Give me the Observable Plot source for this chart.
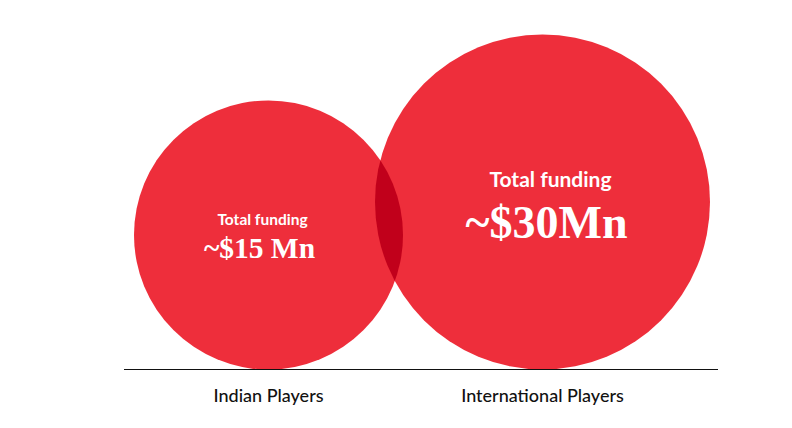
<!DOCTYPE html>
<html>
<head>
<meta charset="utf-8">
<script src="https://cdn.jsdelivr.net/npm/d3@7"></script>
<script src="https://cdn.jsdelivr.net/npm/@observablehq/plot@0.6"></script>
<style>
  html, body { margin: 0; padding: 0; background: #fff; }
</style>
</head>
<body>
<div id="chart"></div>
<script>
const categories = ["Indian Players", "International Players"];
const funding = [15, 30];
const headlines = ["Total funding", "Total funding"];
const amountLabels = ["~$15 Mn", "~$30Mn"];

const rows = categories.map((c, i) => ({category: c, value: funding[i], headline: headlines[i], amount: amountLabels[i]}));

const RED = "#EE2E3B";
const DARK = "#C1001B";

// bubble size scale (pixels), circles rest on the baseline
const size = d3.scaleLinear().domain([15, 30]).range([134.5, 167.5]);
const rad = d => size(d.value);

const left = rows.filter(d => d.category === "Indian Players");
const right = rows.filter(d => d.category === "International Players");

const chart = Plot.plot({
  width: 792,
  height: 428,
  marginTop: 0,
  marginBottom: 59,
  marginLeft: 124,
  marginRight: 74,
  style: {fontFamily: "Lato, sans-serif", fontSize: "18px", fontWeight: 500, color: "#111", background: "#fff"},
  x: {type: "point", domain: categories, range: [268, 542], padding: 0, tickSize: 0, tickPadding: 20, label: null},
  y: {type: "linear", domain: [0, 369], range: [369, 0], axis: null},
  r: {type: "identity"},
  marks: [
    Plot.dot(rows, {x: "category", y: rad, r: rad, fill: RED, stroke: "none", sort: null}),
    Plot.dot(right, {x: "category", y: rad, r: rad, fill: DARK, stroke: "none"}),
    Plot.ruleY([0], {stroke: "#111", strokeWidth: 1.2}),
    Plot.text(left, {x: "category", y: rad, text: "headline", fill: "#fff", fontFamily: "Lato, sans-serif", fontWeight: 700, fontSize: 15.5, dx: -6, dy: -15}),
    Plot.text(left, {x: "category", y: rad, text: "amount", fill: "#fff", fontFamily: "'Liberation Serif', serif", fontWeight: 700, fontSize: 29.5, dx: -9, dy: 14}),
    Plot.text(right, {x: "category", y: rad, text: "headline", fill: "#fff", fontFamily: "Lato, sans-serif", fontWeight: 700, fontSize: 21, dx: 8, dy: -22}),
    Plot.text(right, {x: "category", y: rad, text: "amount", fill: "#fff", fontFamily: "'Liberation Serif', serif", fontWeight: 700, fontSize: 46, dx: 4, dy: 21})
  ]
});

document.getElementById("chart").appendChild(chart);

// clip the darker copy of the right bubble to the left bubble -> overlap lens
const svg = d3.select(chart);
const dotGroups = svg.selectAll("g[aria-label=dot]").nodes();
const leftCircle = d3.select(dotGroups[0]).select("circle").node();
const defs = svg.insert("defs", ":first-child");
const clip = defs.append("clipPath").attr("id", "lens-clip");
clip.node().appendChild(leftCircle.cloneNode(true));
d3.select(dotGroups[1]).attr("clip-path", "url(#lens-clip)");
</script>
</body>
</html>
